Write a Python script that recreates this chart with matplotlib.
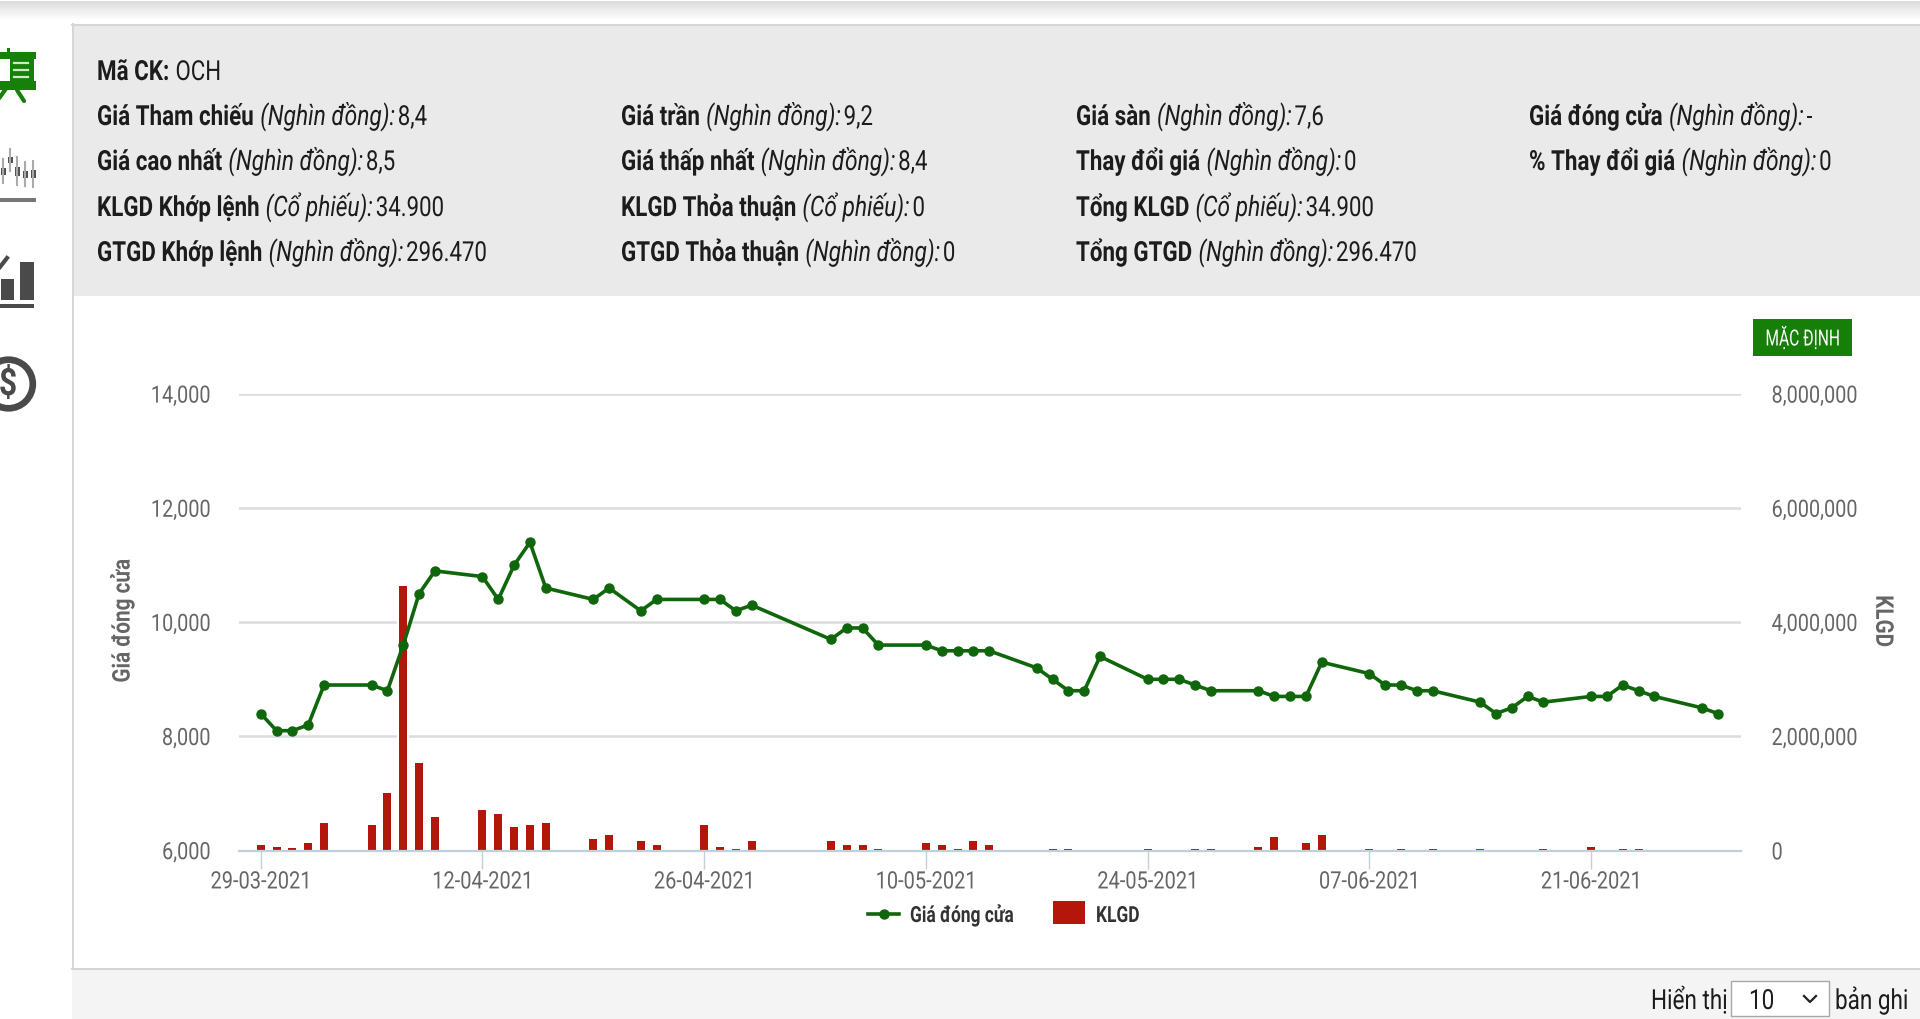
import numpy as np
import pandas as pd
import matplotlib
matplotlib.use('Agg')
import matplotlib.pyplot as plt
import matplotlib.patches as patches
from matplotlib.patheffects import AbstractPathEffect
from matplotlib.ticker import FuncFormatter
from matplotlib.transforms import Affine2D

plt.rcParams['font.family'] = ['Roboto', 'DejaVu Sans']

# ngay giao dich
dates = ['2021-03-29','2021-03-30','2021-03-31','2021-04-01','2021-04-02',
         '2021-04-05','2021-04-06','2021-04-07','2021-04-08','2021-04-09',
         '2021-04-12','2021-04-13','2021-04-14','2021-04-15','2021-04-16',
         '2021-04-19','2021-04-20','2021-04-22','2021-04-23',
         '2021-04-26','2021-04-27','2021-04-28','2021-04-29',
         '2021-05-04','2021-05-05','2021-05-06','2021-05-07',
         '2021-05-10','2021-05-11','2021-05-12','2021-05-13','2021-05-14',
         '2021-05-17','2021-05-18','2021-05-19','2021-05-20','2021-05-21',
         '2021-05-24','2021-05-25','2021-05-26','2021-05-27','2021-05-28',
         '2021-05-31','2021-06-01','2021-06-02','2021-06-03','2021-06-04',
         '2021-06-07','2021-06-08','2021-06-09','2021-06-10','2021-06-11',
         '2021-06-14','2021-06-15','2021-06-16','2021-06-17','2021-06-18',
         '2021-06-21','2021-06-22','2021-06-23','2021-06-24','2021-06-25',
         '2021-06-28','2021-06-29']

gia_dong_cua = [8400,8100,8100,8200,8900,
                8900,8800,9600,10500,10900,
                10800,10400,11000,11400,10600,
                10400,10600,10200,10400,
                10400,10400,10200,10300,
                9700,9900,9900,9600,
                9600,9500,9500,9500,9500,
                9200,9000,8800,8800,9400,
                9000,9000,9000,8900,8800,
                8800,8700,8700,8700,9300,
                9100,8900,8900,8800,8800,
                8600,8400,8500,8700,8600,
                8700,8700,8900,8800,8700,
                8500,8400]

klgd = [118000,83000,53000,153000,507000,
        472000,1032000,4650000,1557000,613000,
        720000,649000,437000,472000,507000,
        224000,295000,186000,116000,
        465000,81000,52000,186000,
        186000,116000,116000,46000,
        151000,116000,46000,186000,116000,
        0,47000,47000,0,0,
        47000,0,0,47000,47000,
        81000,256000,0,151000,285000,
        47000,0,47000,0,47000,
        47000,0,0,0,47000,
        81000,0,47000,47000,0,
        0,0]

tick_dates = ['2021-03-29','2021-04-12','2021-04-26','2021-05-10',
              '2021-05-24','2021-06-07','2021-06-21']
gia_ticks = [6000,8000,10000,12000,14000]
klgd_ticks = [0,2000000,4000000,6000000,8000000]

info_rows = [
    (97, 81, 'Mã CK:', None, 'OCH'),
    (97, 126, 'Giá Tham chiếu', '(Nghìn đồng):', '8,4'),
    (97, 171, 'Giá cao nhất', '(Nghìn đồng):', '8,5'),
    (97, 217, 'KLGD Khớp lệnh', '(Cổ phiếu):', '34.900'),
    (97, 262, 'GTGD Khớp lệnh', '(Nghìn đồng):', '296.470'),
    (621, 126, 'Giá trần', '(Nghìn đồng):', '9,2'),
    (621, 171, 'Giá thấp nhất', '(Nghìn đồng):', '8,4'),
    (621, 217, 'KLGD Thỏa thuận', '(Cổ phiếu):', '0'),
    (621, 262, 'GTGD Thỏa thuận', '(Nghìn đồng):', '0'),
    (1076, 126, 'Giá sàn', '(Nghìn đồng):', '7,6'),
    (1076, 171, 'Thay đổi giá', '(Nghìn đồng):', '0'),
    (1076, 217, 'Tổng KLGD', '(Cổ phiếu):', '34.900'),
    (1076, 262, 'Tổng GTGD', '(Nghìn đồng):', '296.470'),
    (1529, 126, 'Giá đóng cửa', '(Nghìn đồng):', '-'),
    (1529, 171, '% Thay đổi giá', '(Nghìn đồng):', '0'),
]


class Tall(AbstractPathEffect):
    # font hep khong co san: co chu nho cho dung be ngang roi keo cao len
    def __init__(self, sx=1.0, sy=1.0, base=False):
        super().__init__()
        self.sx, self.sy, self.base = sx, sy, base

    def draw_path(self, renderer, gc, tpath, affine, rgbFace=None):
        if self.base:
            m = affine.get_matrix()
            ox, oy = m[0, 2], m[1, 2]
        else:
            box = tpath.get_extents(affine)
            ox, oy = (box.x0+box.x1)/2, (box.y0+box.y1)/2
        stretch = Affine2D().translate(-ox, -oy).scale(self.sx, self.sy).translate(ox, oy)
        renderer.draw_path(gc, tpath, affine + stretch, rgbFace)


xs = pd.to_datetime(dates)
W, H = 1920, 1020
GREEN = '#0f660b'
RED = '#b5160b'
GREY = '#666666'
INK = '#1c1c1c'
AXIS = '#c0d0e0'
ICON_GREEN = '#168008'
ICON_GREY = '#4a4a4a'

fig = plt.figure(figsize=(W/100, H/100), dpi=100, facecolor='white')

# lop nen, toa do theo pixel
ov = fig.add_axes([0, 0, 1, 1], zorder=0)
ov.axis('off')

ov.imshow(np.linspace(0.86, 1.0, 20).reshape(-1, 1), extent=(0, W, 22, 2),
          cmap='gray', vmin=0, vmax=1, aspect='auto', zorder=0)
ov.set_xlim(0, W)
ov.set_ylim(H, 0)
ov.add_patch(patches.Rectangle((72, 26), W-72, 271, fc='#eaeaea', ec='none'))
ov.plot([72, W], [26, 26], color='#d6d6d6', lw=1.5)
ov.plot([72.5, 72.5], [25, 970], color='#d6d6d6', lw=1.4)
ov.add_patch(patches.Rectangle((72, 970), W-72, 50, fc='#f4f4f4', ec='none'))
ov.plot([72, W], [970, 970], color='#d4d4d4', lw=1.5)

# cot ben trai
ov.add_patch(patches.Rectangle((0, 53), 36, 7, fc=ICON_GREEN, ec='none'))
ov.add_patch(patches.Rectangle((0, 82), 36, 9, fc=ICON_GREEN, ec='none'))
ov.add_patch(patches.Rectangle((10, 53), 24, 38, fc=ICON_GREEN, ec='none'))
ov.add_patch(patches.Rectangle((7, 49), 3, 5, fc=ICON_GREEN, ec='none'))
for yy in (64, 71, 78):
    ov.plot([14, 28], [yy, yy], color='#cfe8c8', lw=1.6)
ov.plot([17, 24], [91, 102], color=ICON_GREEN, lw=3, solid_capstyle='round')
ov.plot([5, 0], [91, 98], color=ICON_GREEN, lw=3)

for cx, cy, hh in [(3, 172, 7), (10, 161, 6), (17, 172, 9), (25, 175, 7), (33, 175, 8)]:
    ov.plot([cx, cx], [cy-hh-5, cy+hh+5], color='#aaaaaa', lw=1.5)
    ov.add_patch(patches.Rectangle((cx-2.5, cy-hh/2), 5, hh, fc='#505050', ec='none'))
ov.add_patch(patches.Rectangle((0, 198.5), 36, 4, fc='#777777', ec='none'))

ov.add_patch(patches.Rectangle((1, 280), 13, 21, fc=ICON_GREY, ec='none'))
ov.add_patch(patches.Rectangle((20, 263), 14, 38, fc=ICON_GREY, ec='none'))
ov.plot([0, 7], [268, 259], color=ICON_GREY, lw=3)
ov.add_patch(patches.Rectangle((0, 305), 34, 4, fc=ICON_GREY, ec='none'))

ov.add_patch(patches.Circle((8.5, 385), 24.3, fc='white', ec=ICON_GREY, lw=4.8))
ov.text(8, 385, '$', color=ICON_GREY, fontsize=23, fontweight='bold', ha='center', va='center',
        path_effects=[Tall(sy=1.18)])

# khoi thong tin
renderer = fig.canvas.get_renderer()
tall_info = [Tall(sy=1.24, base=True)]
for x0, y0, label, unit, val in info_rows:
    x = x0
    t = ov.text(x, y0, label, fontsize=16.1, fontweight='bold', color=INK, va='baseline',
                path_effects=tall_info)
    x = t.get_window_extent(renderer).x1 + 6
    if unit:
        t = ov.text(x, y0, unit, fontsize=16.4, style='italic', color=INK, va='baseline',
                    path_effects=tall_info)
        x = t.get_window_extent(renderer).x1 + 3
    ov.text(x, y0, val, fontsize=16, color=INK, va='baseline', path_effects=tall_info)

# nut mac dinh
ov.add_patch(patches.Rectangle((1753, 320), 99, 37, fc='#157f07', ec='none'))
ov.text(1802.5, 338.5, 'MẶC ĐỊNH', color='white', fontsize=11.2, ha='center', va='center',
        path_effects=[Tall(sy=1.43)])

# bieu do chinh
ax_l, ax_r, ax_t, ax_b = 239.3, 1741.0, 395.0, 851.5
ax = fig.add_axes([ax_l/W, 1-ax_b/H, (ax_r-ax_l)/W, (ax_b-ax_t)/H], zorder=1)
ax.patch.set_alpha(0)
ax2 = ax.twinx()
ax2.set_zorder(2)
ax2.patch.set_alpha(0)

day_px = 15.83
ax.set_xlim(xs[0] - pd.Timedelta(days=21.4/day_px), xs[-1] + pd.Timedelta(days=23.3/day_px))

# truc KLGD o duoi, gia o tren; luoi lay tu truc ve cot
ax.set_ylim(0, 8000000)
ax.set_yticks(klgd_ticks)
ax2.set_ylim(6000, 14000)
ax2.set_yticks(gia_ticks)

ax.bar(xs, klgd, width=10/day_px, color=RED, edgecolor='white', linewidth=1.44, zorder=3)
ax2.plot(xs, gia_dong_cua, color=GREEN, lw=2.6, marker='o', ms=6.5, zorder=4, solid_joinstyle='round')

ax.set_axisbelow(True)
ax.yaxis.grid(True, color='#dcdcdc', lw=1.8)
ax.xaxis.grid(False)
ax.set_xticks(pd.to_datetime(tick_dates))
ax.set_xticklabels(pd.to_datetime(tick_dates).strftime('%d-%m-%Y'))

for a in (ax, ax2):
    for s in a.spines.values():
        s.set_visible(False)
ax.spines['bottom'].set_visible(True)
ax.spines['bottom'].set_color(AXIS)
ax.spines['bottom'].set_linewidth(1.6)
ax.spines['bottom'].set_zorder(5)
ax.tick_params(axis='x', length=13, width=1, color=AXIS, labelcolor=GREY, labelsize=14.4, pad=2.5)
for lab in ax.get_xticklabels():
    lab.set_path_effects([Tall(sy=1.2)])

fmt = FuncFormatter(lambda v, p: f'{v:,.0f}')
ax.yaxis.set_major_formatter(fmt)
ax2.yaxis.set_major_formatter(fmt)
# gia ben trai, KLGD ben phai
ax.yaxis.tick_right()
ax2.yaxis.tick_left()
ax.tick_params(axis='y', length=0, labelcolor=GREY, labelsize=14.3, pad=22)
ax2.tick_params(axis='y', length=0, labelcolor=GREY, labelsize=14.3, pad=20.7)
for lab in ax.get_yticklabels() + ax2.get_yticklabels():
    lab.set_path_effects([Tall(sy=1.2)])

# tieu de truc, chu giai
ov.text(122, 622, 'Giá đóng cửa', rotation=90, color=GREY, fontsize=14.9, fontweight='bold',
        ha='center', va='center', path_effects=[Tall(sx=1.18)])
ov.text(1883, 622, 'KLGD', rotation=270, color=GREY, fontsize=14.9, fontweight='bold',
        ha='center', va='center', path_effects=[Tall(sx=1.18)])

ov.plot([868, 899], [915, 915], color=GREEN, lw=2.6)
ov.plot([884], [915], color=GREEN, marker='o', ms=6.5)
tall_leg = [Tall(sy=1.28, base=True)]
ov.text(910, 923, 'Giá đóng cửa', color='#333333', fontsize=12.5, fontweight='bold', va='baseline',
        path_effects=tall_leg)
ov.add_patch(patches.Rectangle((1053, 902), 32, 23, fc=RED, ec='none'))
ov.text(1096, 923, 'KLGD', color='#333333', fontsize=12.5, fontweight='bold', va='baseline',
        path_effects=tall_leg)

# phan trang
tall_page = [Tall(sy=1.23, base=True)]
ov.text(1651, 1010, 'Hiển thị', color=INK, fontsize=16.2, va='baseline', path_effects=tall_page)
ov.add_patch(patches.Rectangle((1731, 982), 98, 35, fc='white', ec='#a8a8a8', lw=1))
ov.text(1749, 1010, '10', color=INK, fontsize=16.2, va='baseline', path_effects=tall_page)
ov.plot([1804, 1810, 1816], [997, 1003, 997], color='#222222', lw=1.6)
ov.text(1835, 1010, 'bản ghi', color=INK, fontsize=16.2, va='baseline', path_effects=tall_page)

fig.savefig('out.png', dpi=100, facecolor='white')
